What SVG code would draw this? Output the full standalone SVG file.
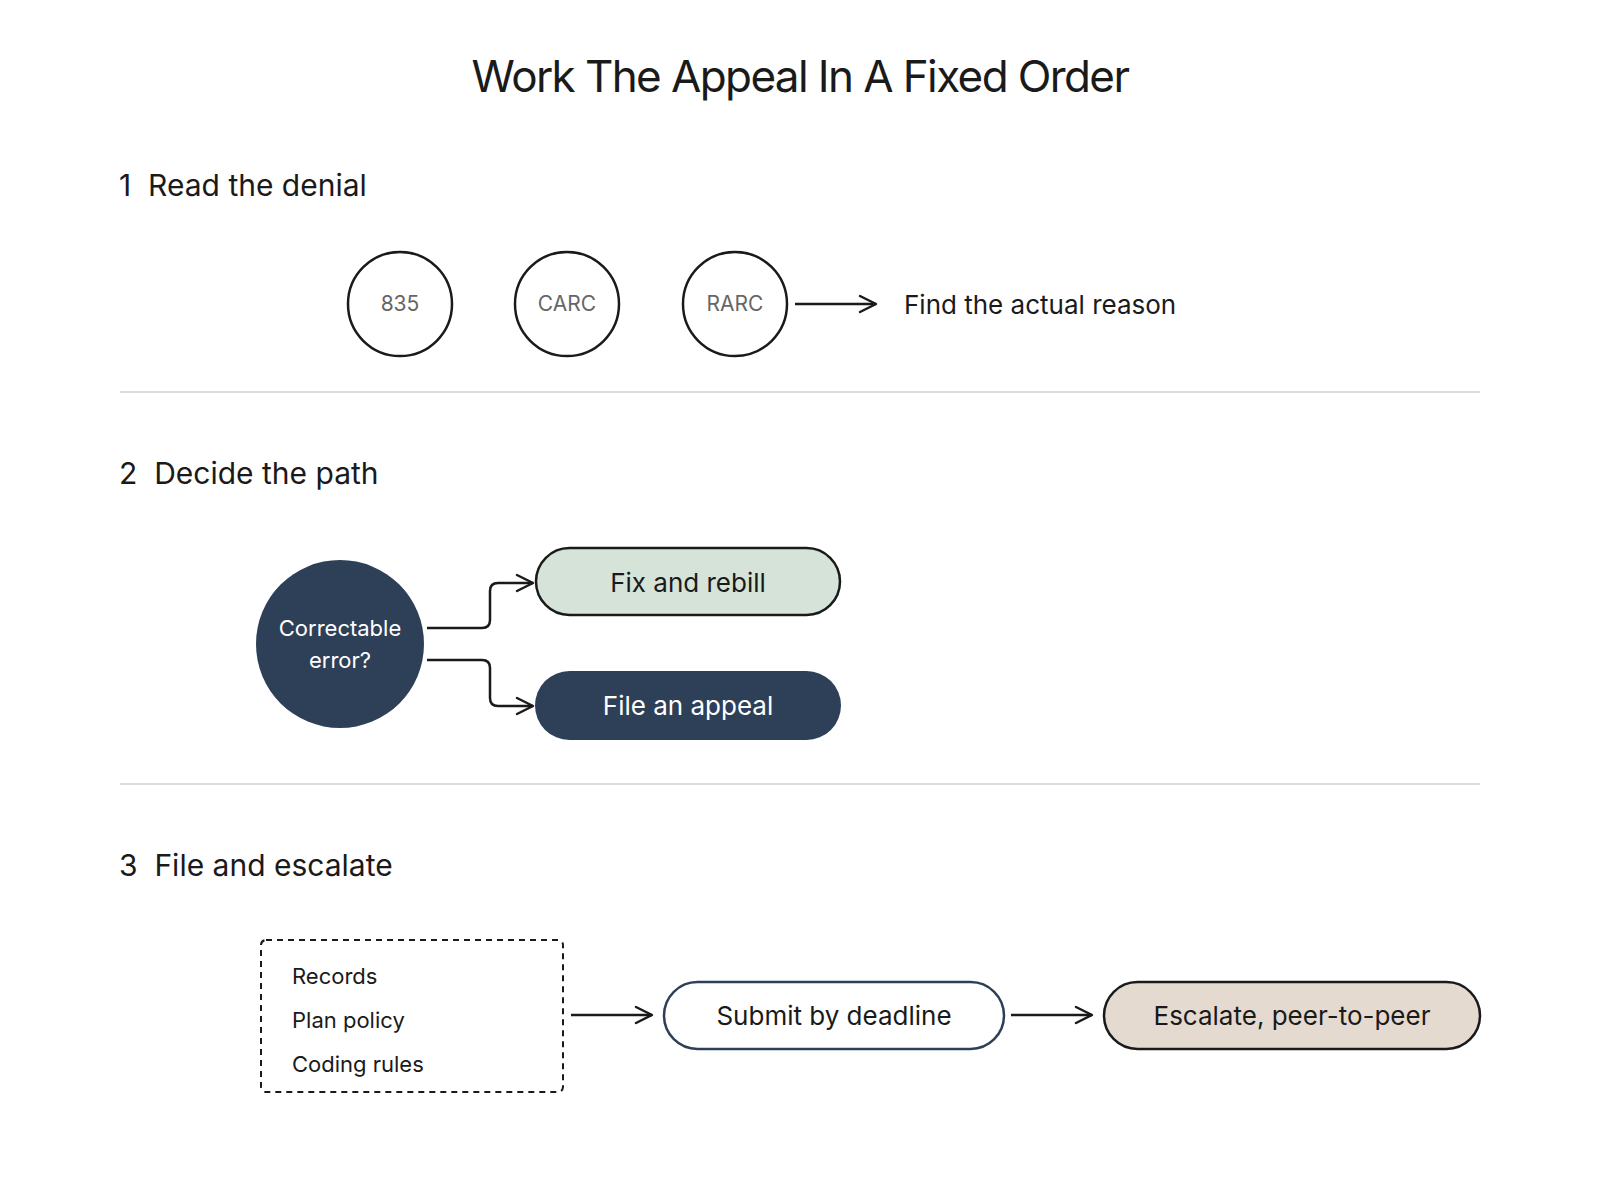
<svg xmlns="http://www.w3.org/2000/svg" width="1600" height="1200" viewBox="0 0 1600 1200">
<defs>
<marker id="arr" viewBox="0 0 20 20" refX="18" refY="10" markerWidth="20" markerHeight="20" markerUnits="userSpaceOnUse" orient="auto">
<path d="M2,2 L18,10 L2,18" fill="none" stroke="#1a1a1a" stroke-width="2.5" stroke-linecap="round" stroke-linejoin="round"/>
</marker>
<style>
text{font-family:Inter,"Noto Sans","Liberation Sans",sans-serif;fill:#1a1a1a}
.title{font-size:44px;text-anchor:middle;letter-spacing:-1.6px}
.head{font-size:30px}
.circ{fill:#fff;stroke:#1a1a1a;stroke-width:2.5}
.ctext{font-size:21px;fill:#666;text-anchor:middle}
.lbl{font-size:26px;text-anchor:middle}
.small{font-size:22px}
.div{stroke:#dcdcdc;stroke-width:2}
.conn{fill:none;stroke:#1a1a1a;stroke-width:2.5;marker-end:url(#arr)}
.navy{fill:#2e4058}
</style>
</defs>
<rect width="1600" height="1200" fill="#fff"/>
<text class="title" x="800" y="92">Work The Appeal In A Fixed Order</text>

<g id="section1">
<text class="head" x="119" y="196" xml:space="preserve">1  Read the denial</text>
<g id="n835"><circle class="circ" cx="400" cy="304" r="52"/><text class="ctext" x="400" y="311">835</text></g>
<g id="carc"><circle class="circ" cx="567" cy="304" r="52"/><text class="ctext" x="567" y="311">CARC</text></g>
<g id="rarc"><circle class="circ" cx="735" cy="304" r="52"/><text class="ctext" x="735" y="311">RARC</text></g>
<g id="reason"><text class="lbl" x="904" y="314" style="text-anchor:start">Find the actual reason</text></g>
</g>
<line class="div" x1="120" y1="392" x2="1480" y2="392"/>

<g id="section2">
<text class="head" x="119" y="484" xml:space="preserve">2  Decide the path</text>
<g id="decision"><circle class="navy" cx="340" cy="644" r="84"/>
<text class="small" x="340" y="636" style="fill:#fff;text-anchor:middle">Correctable</text>
<text class="small" x="340" y="668" style="fill:#fff;text-anchor:middle">error?</text></g>
<g id="fix"><rect x="536" y="548" width="304" height="67" rx="33.5" fill="#d5e3d9" stroke="#1a1a1a" stroke-width="2.5"/>
<text class="lbl" x="688" y="592">Fix and rebill</text></g>
<g id="appeal"><rect class="navy" x="535" y="671" width="306" height="69" rx="34.5"/>
<text class="lbl" x="688" y="715" style="fill:#fff">File an appeal</text></g>
</g>
<line class="div" x1="120" y1="784" x2="1480" y2="784"/>

<g id="section3">
<text class="head" x="119" y="876" xml:space="preserve">3  File and escalate</text>
<g id="inputs"><rect x="261" y="940" width="302" height="152" rx="5" fill="none" stroke="#1a1a1a" stroke-width="2" stroke-dasharray="6 5"/>
<text class="small" x="292" y="984">Records</text>
<text class="small" x="292" y="1028">Plan policy</text>
<text class="small" x="292" y="1072">Coding rules</text></g>
<g id="submit"><rect x="664" y="982" width="340" height="67" rx="33.5" fill="#fff" stroke="#2e4058" stroke-width="2.5"/>
<text class="lbl" x="834" y="1025">Submit by deadline</text></g>
<g id="escalate"><rect x="1104" y="982" width="376" height="67" rx="33.5" fill="#e4dad0" stroke="#1a1a1a" stroke-width="2.5"/>
<text class="lbl" x="1292" y="1025">Escalate, peer-to-peer</text></g>
</g>

<g id="connectors">
<path class="conn" d="M795,304 H876"/>
<path class="conn" d="M427,628 H482 Q490,628 490,620 V591 Q490,583 498,583 H533"/>
<path class="conn" d="M427,660 H482 Q490,660 490,668 V698 Q490,706 498,706 H533"/>
<path class="conn" d="M571,1015 H652"/>
<path class="conn" d="M1011,1015 H1092"/>
</g>
</svg>
